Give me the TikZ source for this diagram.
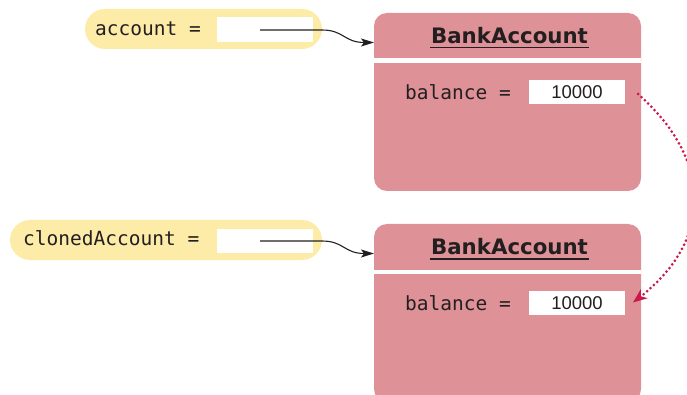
\documentclass[tikz,border=0pt]{standalone}
\usepackage{fontspec}
\setmainfont{DejaVu Sans}
\newfontfamily\monof{DejaVu Sans Mono}
\newfontfamily\numf{Liberation Sans}
\newfontfamily\titlef{DejaVu Sans}
\usetikzlibrary{arrows.meta}
\definecolor{pillc}{HTML}{FDEBA8}
\definecolor{objc}{HTML}{DE9196}
\definecolor{refc}{HTML}{C8184C}
\definecolor{inkc}{HTML}{231F20}
\begin{document}
\begin{tikzpicture}[x=1pt,y=-1pt,
  pill/.style={fill=pillc, rounded corners=20pt, inner sep=0pt, minimum height=40pt},
  wbox/.style={fill=white, inner sep=0pt, minimum width=96pt},
  objbox/.style={fill=objc, rounded corners=13pt, inner sep=0pt, minimum width=267pt, minimum height=178pt},
  monotext/.style={inner sep=0pt, anchor=base west, text=inkc, font=\monof\fontsize{19.5}{22}\selectfont},
  numtext/.style={inner sep=0pt, anchor=base, text=inkc, font=\numf\fontsize{18.5}{20}\selectfont},
  titletext/.style={inner sep=0pt, anchor=base, text=inkc, font=\titlef\bfseries\fontsize{21.3}{24}\selectfont},
  ptr/.style={draw=inkc, line width=1.1pt, -{Stealth[length=13pt,width=8pt,inset=3pt]}},
  refline/.style={draw=refc, line width=3pt, line cap=round, dash pattern=on 0pt off 4.6pt,
    -{Stealth[length=14pt,width=11pt,inset=4pt]}}
]
\useasboundingbox (0,0) rectangle (687,395);
\clip (0,0) rectangle (687,395);

% top reference
\node[pill, minimum width=237pt] (p1) at (203.5,29) {};
\node[monotext] (l1) at (95,35.5) {account =};
\node[wbox, minimum height=25pt] (r1) at (265,30) {};

% bottom reference
\node[pill, minimum width=312pt] (p2) at (166,240) {};
\node[monotext] (l2) at (23,245.5) {clonedAccount =};
\node[wbox, minimum height=24pt] (r2) at (265,241) {};

% top object
\node[objbox] (o1) at (507.5,102) {};
\fill[white] (374,58.5) rectangle (641,63);
\node[titletext] (t1) at (509.5,43.3) {BankAccount};
\draw[draw=inkc, line width=1.8pt] (430,47.6) -- (589,47.6);
\node[monotext] (b1) at (405,99.3) {balance =};
\node[wbox, minimum height=24pt] (v1) at (577,92) {};
\node[numtext] (n1) at (577,98.5) {10000};

% bottom object
\node[objbox] (o2) at (507.5,313) {};
\fill[white] (374,269.5) rectangle (641,274);
\node[titletext] (t2) at (509.5,254.3) {BankAccount};
\draw[draw=inkc, line width=1.8pt] (430,258.6) -- (589,258.6);
\node[monotext] (b2) at (405,310.3) {balance =};
\node[wbox, minimum height=24pt] (v2) at (577,303) {};
\node[numtext] (n2) at (577,309.5) {10000};

% pointers
\coordinate (a1) at (374,42.5);
\coordinate (a2) at (374,253.5);
\draw[ptr] ([xshift=-5pt]r1.center) -- (322,30) .. controls (344,30) and (344,42.5) .. (a1);
\draw[ptr] ([xshift=-5pt]r2.center) -- (322,241) .. controls (344,241) and (344,253.5) .. (a2);

% copy relation
\coordinate (d1) at (638,94);
\coordinate (d2) at (633,302.5);
\draw[refline] (d1) .. controls (713,160) and (713,240) .. (d2);
\end{tikzpicture}
\end{document}
